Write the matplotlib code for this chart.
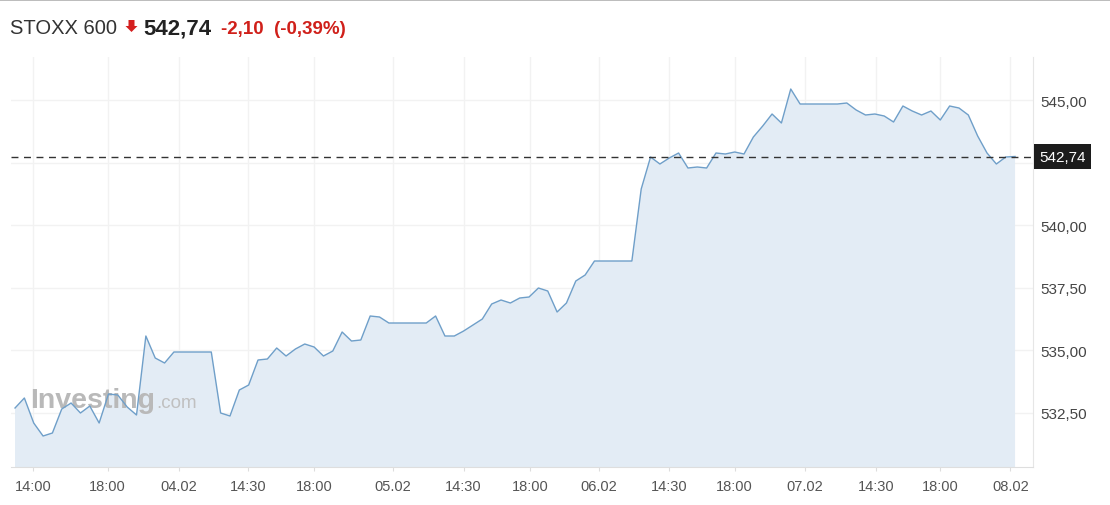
import numpy as np
import matplotlib
matplotlib.use("Agg")
import matplotlib.pyplot as plt
import matplotlib.transforms as mtransforms
from matplotlib.patches import Polygon
from matplotlib.lines import Line2D

# Data (30 min closes, gaps between sessions removed)
prices = [
    532.68, 533.08, 532.08, 531.56, 531.68, 532.64, 532.88, 532.48, 532.76, 532.08,
    533.24, 533.20, 532.72, 532.40, 535.56, 534.68, 534.48, 534.92, 534.92, 534.92,
    534.92, 534.92, 532.48, 532.36, 533.40, 533.60, 534.60, 534.64, 535.08, 534.76,
    535.04, 535.24, 535.12, 534.76, 534.96, 535.72, 535.36, 535.40, 536.36, 536.32,
    536.08, 536.08, 536.08, 536.08, 536.08, 536.36, 535.56, 535.56, 535.76, 536.00,
    536.24, 536.84, 537.00, 536.88, 537.08, 537.12, 537.48, 537.36, 536.52, 536.88,
    537.76, 538.00, 538.56, 538.56, 538.56, 538.56, 538.56, 541.44, 542.72, 542.44,
    542.68, 542.88, 542.28, 542.32, 542.28, 542.88, 542.84, 542.92, 542.84, 543.52,
    543.96, 544.44, 544.08, 545.44, 544.84, 544.84, 544.84, 544.84, 544.84, 544.88,
    544.60, 544.40, 544.44, 544.36, 544.12, 544.76, 544.56, 544.40, 544.56, 544.20,
    544.76, 544.68, 544.40, 543.56, 542.88, 542.44, 542.72, 542.74,
]
last_price = 542.74
last_label = "542,74"
change_label = "-2,10  (-0,39%)"
title_label = "STOXX 600"

x_tick_pos = [1.9, 9.9, 17.5, 24.9, 32.0, 40.4, 48.0, 55.1, 62.5, 70.0, 77.0, 84.5, 92.1, 99.0, 106.5]
x_tick_labels = ["14:00", "18:00", "04.02", "14:30", "18:00", "05.02", "14:30", "18:00",
                 "06.02", "14:30", "18:00", "07.02", "14:30", "18:00", "08.02"]
y_tick_pos = [532.5, 535.0, 537.5, 540.0, 542.5, 545.0]
y_tick_labels = ["532,50", "535,00", "537,50", "540,00", "", "545,00"]

# pixel helpers
W, H = 1110, 506
def fx(x):
    return x / W
def fy(y):
    return 1 - y / H

plt.rcParams['font.family'] = ['Liberation Sans', 'DejaVu Sans']

fig = plt.figure(figsize=(W / 100, H / 100), dpi=100)
ax = fig.add_axes([fx(11), fy(468), fx(1033) - fx(11), (468 - 58) / H])

x = np.arange(len(prices))
ax.fill_between(x, prices, 500, color='#e3ecf5', lw=0, zorder=1)
ax.plot(x, prices, color='#6f9fc9', lw=1.0, zorder=3)
ax.axhline(last_price, color='#333333', lw=1.0, ls=(0, (5, 4)), zorder=4)

ax.set_xlim(-0.43, 108.92)
ax.set_ylim(530.32, 546.72)

ax.set_xticks(x_tick_pos)
ax.set_xticklabels(x_tick_labels)
ax.set_yticks(y_tick_pos)
ax.set_yticklabels(y_tick_labels)
ax.yaxis.tick_right()
ax.tick_params(axis='y', length=0, pad=5, labelsize=11, labelcolor='#444444')
ax.tick_params(axis='x', length=3, color='#dddddd', pad=6, labelsize=10.5, labelcolor='#555555')
ax.grid(color='#f2f2f2', lw=1.0, zorder=0)
ax.set_axisbelow(True)

for side in ['top', 'left']:
    ax.spines[side].set_visible(False)
ax.spines['right'].set_color('#e6e6e6')
ax.spines['bottom'].set_color('#dedede')

# last price box on the right axis
blend = mtransforms.blended_transform_factory(ax.transAxes, ax.transData)
ax.annotate(last_label, xy=(1.0, last_price), xycoords=blend,
            xytext=(6, 0), textcoords='offset pixels',
            ha='left', va='center', color='white', fontsize=11,
            bbox=dict(boxstyle='square,pad=0.33', fc='#1c1c1c', ec='none'),
            annotation_clip=False, zorder=10)

# watermark
wm = ax.text(fx(30), fy(408), "Investing", transform=fig.transFigure,
             fontsize=20.5, fontweight='bold', color='#b9b9b9', va='baseline', zorder=2)
fig.canvas.draw()
r = fig.canvas.get_renderer()
bb = wm.get_window_extent(r)
ax.text(bb.x1 / W + fx(1), fy(408), ".com", transform=fig.transFigure,
        fontsize=13.5, color='#c0c0c0', va='baseline', zorder=2)

# header
fig.text(fx(10), fy(34), title_label, fontsize=14.5, color='#333333', va='baseline')
arrow = Polygon([[fx(128.5), fy(21)], [fx(134.5), fy(21)], [fx(134.5), fy(27)],
                 [fx(137.5), fy(27)], [fx(131.5), fy(33)], [fx(125.5), fy(27)],
                 [fx(128.5), fy(27)]], closed=True, transform=fig.transFigure,
                fc='#d41f1f', ec='none')
fig.add_artist(arrow)
fig.text(fx(143), fy(34), last_label, fontsize=16, fontweight='bold', color='#222222', va='baseline')
fig.text(fx(221), fy(34), change_label, fontsize=13.5, fontweight='bold', color='#d0201a', va='baseline')

fig.add_artist(Line2D([0, 1], [fy(0.5), fy(0.5)], transform=fig.transFigure, color='#b0b0b0', lw=1.2))

plt.savefig("out.png", dpi=100)
